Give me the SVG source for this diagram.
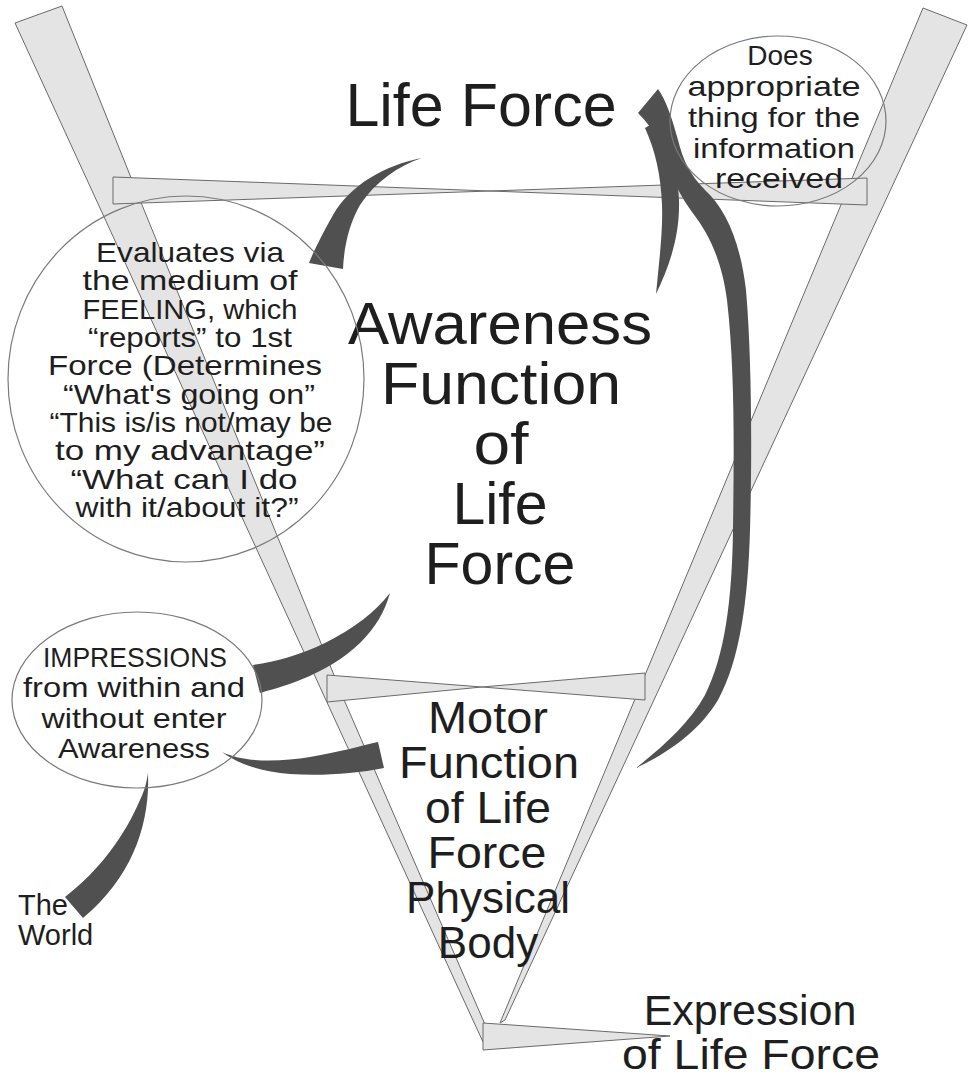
<svg xmlns="http://www.w3.org/2000/svg" width="975" height="1078" viewBox="0 0 975 1078">
<style>
.bar{fill:#e4e4e4;stroke:#6a6a6a;stroke-width:1;stroke-linejoin:round}
.sw{fill:#505050}
.oval{fill:none;stroke:#7a7a7a;stroke-width:1.2}
.t{font-family:"Liberation Sans",Arial,sans-serif;fill:#1e1e1e;text-anchor:middle}
.big{font-size:59px}
.title{font-size:61px}
.mid{font-size:44px}
.exp{font-size:43px}
.sm{font-size:28px}
.xs{font-size:28px}
.wl{font-size:29px;text-anchor:start}
</style>
<rect width="975" height="1078" fill="#ffffff"/>
<g id="frame">
  <polygon class="bar" points="15,23 62,6 140,200 345,702 490,1036 483,1042"/>
  <polygon class="bar" points="923,8 967,25 653,702 505,1020 500,1023"/>
  <polygon class="bar" points="113,177 113,204 490,191"/>
  <polygon class="bar" points="867,178 867,205 490,191"/>
  <polygon class="bar" points="327,675 327,702 482,687"/>
  <polygon class="bar" points="645,673 645,700 482,687"/>
  <polygon class="bar" points="483,1023 483,1050 670,1036"/>
</g>
<g id="connectors">
  <path class="sw" d="M 422,158 C 385,165 350,185 333,215 C 320,238 312,255 309,263 L 343,269 C 344,245 350,222 360,205 C 375,182 398,166 422,158 Z"/>
  <path class="sw" d="M 390,593 C 380,630 350,660 300,680 C 285,686 270,690 260,693 L 253,665 C 275,662 300,655 325,643 C 355,628 375,612 390,593 Z"/>
  <path class="sw" d="M 222,752 C 245,763 280,762 310,757 C 340,752 360,746 378,742 L 384,768 C 355,774 320,776 290,774 C 260,771 238,764 222,752 Z"/>
  <path class="sw" d="M 148,773 C 150,820 135,870 92,910 L 83,918 L 65,897 C 100,870 125,835 140,800 C 145,790 147,780 148,773 Z"/>
  <path class="sw" d="M 638,113 L 658,89 C 666,100 672,118 678,140 C 683,160 690,175 705,190 C 725,208 740,240 746,290 C 752,360 752,460 750,530 C 748,600 740,660 718,700 C 700,730 670,752 636,768 C 665,745 690,722 705,695 C 725,655 732,600 733,530 C 734,450 735,370 727,300 C 722,262 710,235 692,212 C 682,198 675,185 670,170 C 665,150 655,130 638,113 Z"/>
  <path class="sw" d="M 650,125 C 665,140 678,165 679,200 C 680,235 670,265 656,294 C 659,262 663,232 662,205 C 661,175 655,150 645,128 Z"/>
</g>
<g id="node-life-force">
  <text class="t title" x="481" y="126">Life Force</text>
</g>
<g id="node-awareness">
  <text class="t big"><tspan x="500" y="344" textLength="304" lengthAdjust="spacingAndGlyphs">Awareness</tspan><tspan x="501" y="404" textLength="240" lengthAdjust="spacingAndGlyphs">Function</tspan><tspan x="501" y="464" textLength="55" lengthAdjust="spacingAndGlyphs">of</tspan><tspan x="500" y="524">Life</tspan><tspan x="500" y="584">Force</tspan></text>
</g>
<g id="node-evaluates">
  <ellipse class="oval" cx="186" cy="379" rx="178" ry="183"/>
  <text class="t sm"><tspan x="190" y="262" textLength="188" lengthAdjust="spacingAndGlyphs">Evaluates via</tspan><tspan x="190" y="290.33" textLength="215" lengthAdjust="spacingAndGlyphs">the medium of</tspan><tspan x="190" y="318.67" textLength="215" lengthAdjust="spacingAndGlyphs">FEELING, which</tspan><tspan x="190" y="347" textLength="204" lengthAdjust="spacingAndGlyphs">“reports” to 1st</tspan><tspan x="185" y="375.33" textLength="274" lengthAdjust="spacingAndGlyphs">Force (Determines</tspan><tspan x="189" y="403.67" textLength="252" lengthAdjust="spacingAndGlyphs">“What's going on”</tspan><tspan x="191" y="432" textLength="283" lengthAdjust="spacingAndGlyphs">“This is/is not/may be</tspan><tspan x="190" y="460.33" textLength="270" lengthAdjust="spacingAndGlyphs">to my advantage”</tspan><tspan x="184" y="488.67" textLength="227" lengthAdjust="spacingAndGlyphs">“What can I do</tspan><tspan x="187" y="517" textLength="223" lengthAdjust="spacingAndGlyphs">with it/about it?”</tspan></text>
</g>
<g id="node-does">
  <ellipse class="oval" cx="778" cy="121" rx="108" ry="85"/>
  <text class="t xs"><tspan x="780" y="65">Does</tspan><tspan x="774" y="96" textLength="173" lengthAdjust="spacingAndGlyphs">appropriate</tspan><tspan x="774" y="127" textLength="172" lengthAdjust="spacingAndGlyphs">thing for the</tspan><tspan x="774" y="158" textLength="162" lengthAdjust="spacingAndGlyphs">information</tspan><tspan x="779" y="188" textLength="128" lengthAdjust="spacingAndGlyphs">received</tspan></text>
</g>
<g id="node-impressions">
  <ellipse class="oval" cx="137" cy="700" rx="125" ry="88"/>
  <text class="t xs"><tspan x="135" y="667" textLength="184" lengthAdjust="spacingAndGlyphs">IMPRESSIONS</tspan><tspan x="134" y="697" textLength="222" lengthAdjust="spacingAndGlyphs">from within and</tspan><tspan x="134" y="728" textLength="185" lengthAdjust="spacingAndGlyphs">without enter</tspan><tspan x="134" y="758" textLength="152" lengthAdjust="spacingAndGlyphs">Awareness</tspan></text>
</g>
<g id="node-motor">
  <text class="t mid"><tspan x="488" y="733" textLength="120" lengthAdjust="spacingAndGlyphs">Motor</tspan><tspan x="489" y="778" textLength="180" lengthAdjust="spacingAndGlyphs">Function</tspan><tspan x="488" y="823" textLength="126" lengthAdjust="spacingAndGlyphs">of Life</tspan><tspan x="487" y="868" textLength="119" lengthAdjust="spacingAndGlyphs">Force</tspan><tspan x="488" y="913">Physical</tspan><tspan x="488" y="958">Body</tspan></text>
</g>
<g id="node-expression">
  <text class="t exp"><tspan x="750" y="1025">Expression</tspan><tspan x="751" y="1069" textLength="258" lengthAdjust="spacingAndGlyphs">of Life Force</tspan></text>
</g>
<g id="node-world">
  <text class="t wl"><tspan x="18" y="915">The</tspan><tspan x="18" y="945">World</tspan></text>
</g>
</svg>
